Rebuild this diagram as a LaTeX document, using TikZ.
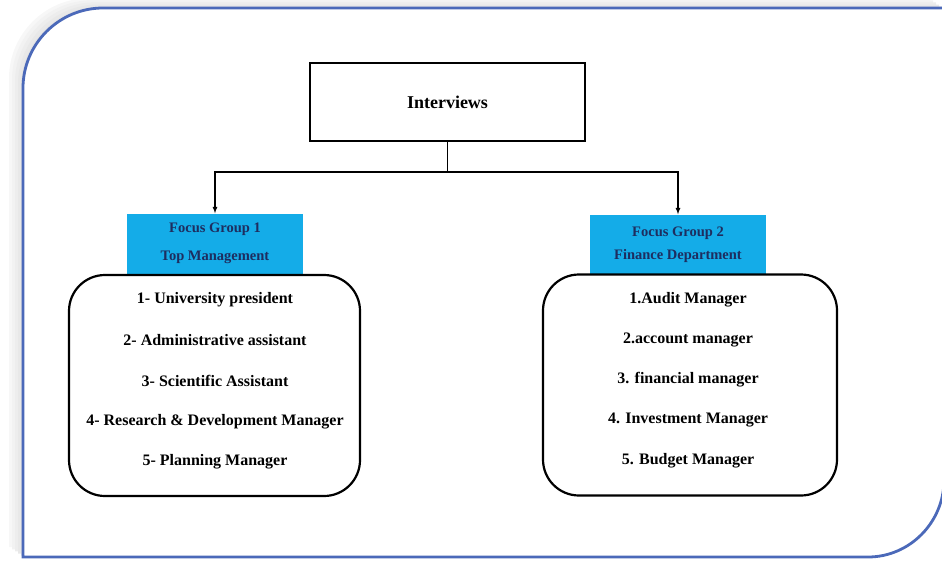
\documentclass[tikz,border=0pt]{standalone}
\usepackage{fontspec}
\setmainfont{Liberation Serif}
\usetikzlibrary{positioning}
\definecolor{frameblue}{RGB}{75,105,185}
\definecolor{groupcyan}{RGB}{20,172,232}
\definecolor{groupnavy}{RGB}{30,45,95}

\begin{document}
\begin{tikzpicture}[x=1pt,y=-1pt,
  top/.style={draw,line width=1.8pt,minimum width=275pt,minimum height=78pt,font=\bfseries\fontsize{18}{21}\selectfont},
  group/.style={fill=groupcyan,text=groupnavy,minimum width=176pt,minimum height=60pt,align=center,font=\bfseries\fontsize{14.5}{16}\selectfont},
  members/.style={draw,line width=2.2pt,rounded corners=36pt,minimum width=291pt,minimum height=221pt},
  member/.style={font=\bfseries\fontsize{16}{19}\selectfont},
  link/.style={line width=1.2pt}]
\useasboundingbox (0,0) rectangle (942,560);
% frame with shadow
\foreach \s/\c in {14/3,11/5,8/7,5/9,2/11} {
  \fill[black!\c, shift={(-\s,-0.7*\s)}] (23,557) -- (23,88) .. controls (23,44) and (59,8) .. (103,8)
    -- (944,8) -- (944,480) .. controls (944,522) and (910,557) .. (868,557) -- cycle;
}
\draw[frameblue,line width=2.8pt,fill=white] (23,557) -- (23,88) .. controls (23,44) and (59,8) .. (103,8)
  -- (944,8) -- (944,480) .. controls (944,522) and (910,557) .. (868,557) -- cycle;

\node[top] (interviews) at (447.5,102) {Interviews};
\node[group] (fg1) at (215,243.5) {Focus Group 1\\[12pt]Top Management};
\node[group] (fg2) at (678,244.5) {Focus Group 2\\[7pt]Finance Department};
\node[members] (list1) at (214.5,385.5) {};
\node[members,minimum width=294pt] (list2) at (690,385) {};
\coordinate (split) at (447.5,172);

\draw[link] (interviews) -- (split);
\draw[link,-latex] (split) -| (fg1);
\draw[link,-latex] (split) -| (fg2);

% members
\foreach \t [count=\k] in {1- University president, 2- Administrative assistant, 3- Scientific Assistant, 4- Research \& Development Manager, 5- Planning Manager} {
  \node[member] (A\k) at (215,259.5+40.5*\k) {\t};
}
\foreach \t [count=\k] in {1.Audit Manager, 2.account manager, 3. financial manager, 4. Investment Manager, 5. Budget Manager} {
  \node[member] (B\k) at (688,259+40.25*\k) {\t};
}
\end{tikzpicture}
\end{document}
